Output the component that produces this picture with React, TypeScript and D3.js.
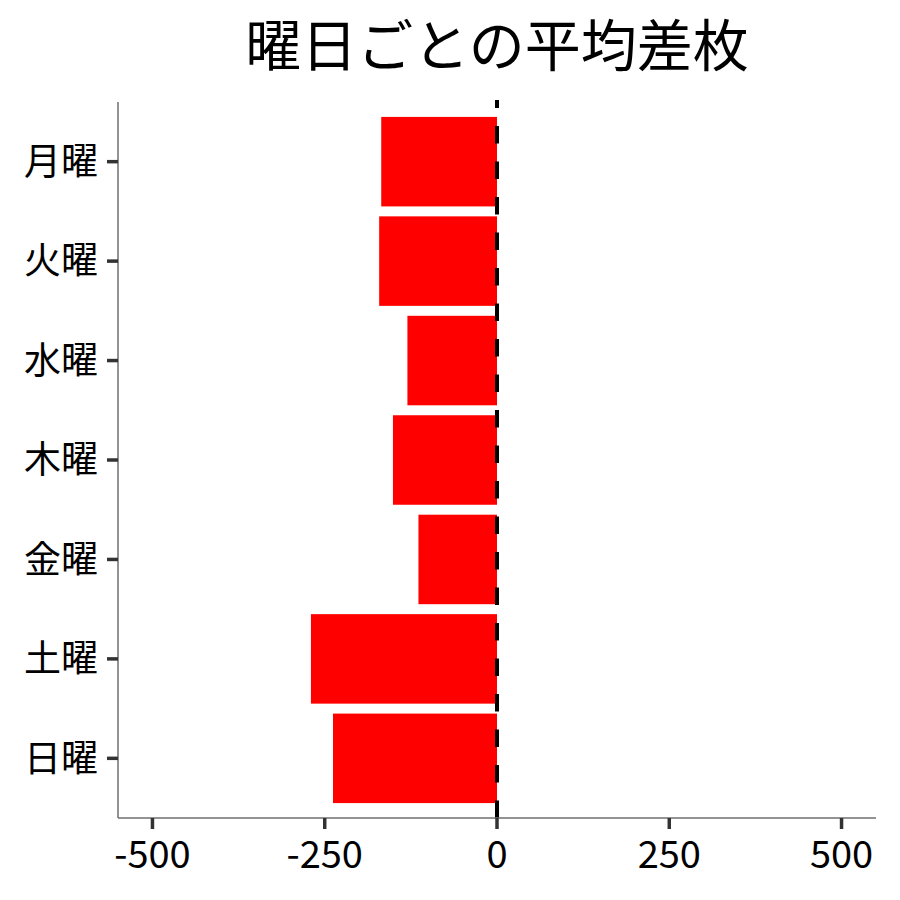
import React from "react";
import * as d3 from "d3";

const days = ["月曜", "火曜", "水曜", "木曜", "金曜", "土曜", "日曜"];
const avgDiff = [-168, -171, -130, -151, -114, -270, -238];
const xTicks = [-500, -250, 0, 250, 500];
const title = "曜日ごとの平均差枚";

const W = 900;
const H = 900;
const FONT = "'Noto Sans CJK JP', 'Noto Sans', sans-serif";

export default function App() {
  const left = 118;
  const right = 876;
  const top = 102;
  const bottom = 818;

  const x = d3.scaleLinear().domain([-550, 550]).range([left, right]);
  const y = d3.scalePoint<string>().domain(days).range([top, bottom]).padding(0.6);
  const step = y.step();
  const barH = step * 0.9;

  return (
    <svg width={W} height={H} style={{ display: "block", position: "absolute", left: 0, top: 0 }}>
      <rect x={0} y={0} width={W} height={H} fill="#ffffff" />
      <text
        x={(left + right) / 2}
        y={66}
        textAnchor="middle"
        fontFamily={FONT}
        fontSize={56}
        fill="#000"
      >
        {title}
      </text>
      {days.map((d, i) => {
        const v = avgDiff[i];
        const cy = y(d)!;
        return (
          <rect
            key={d}
            x={x(Math.min(0, v))}
            y={cy - barH / 2}
            width={Math.abs(x(v) - x(0))}
            height={barH}
            fill="#FF0000"
          />
        );
      })}
      <line
        x1={x(0)}
        x2={x(0)}
        y1={bottom}
        y2={top - 2}
        stroke="#000"
        strokeWidth={4}
        strokeDasharray="17.5 18"
      />
      <line x1={left} x2={left} y1={top} y2={bottom} stroke="#6f6f6f" strokeWidth={1.5} />
      <line x1={left} x2={right} y1={bottom} y2={bottom} stroke="#6f6f6f" strokeWidth={1.5} />
      {days.map((d) => (
        <g key={"yt" + d}>
          <line x1={left - 11} x2={left} y1={y(d)!} y2={y(d)!} stroke="#333" strokeWidth={3.5} />
          <text
            x={left - 20}
            y={y(d)!}
            dy="0.36em"
            textAnchor="end"
            fontFamily={FONT}
            fontSize={37}
            fill="#000"
          >
            {d}
          </text>
        </g>
      ))}
      {xTicks.map((t) => (
        <g key={"xt" + t}>
          <line x1={x(t)} x2={x(t)} y1={bottom} y2={bottom + 11} stroke="#333" strokeWidth={3.5} />
          <text
            x={x(t)}
            y={bottom + 50}
            textAnchor="middle"
            fontFamily={FONT}
            fontSize={38}
            fill="#000"
          >
            {t}
          </text>
        </g>
      ))}
    </svg>
  );
}
